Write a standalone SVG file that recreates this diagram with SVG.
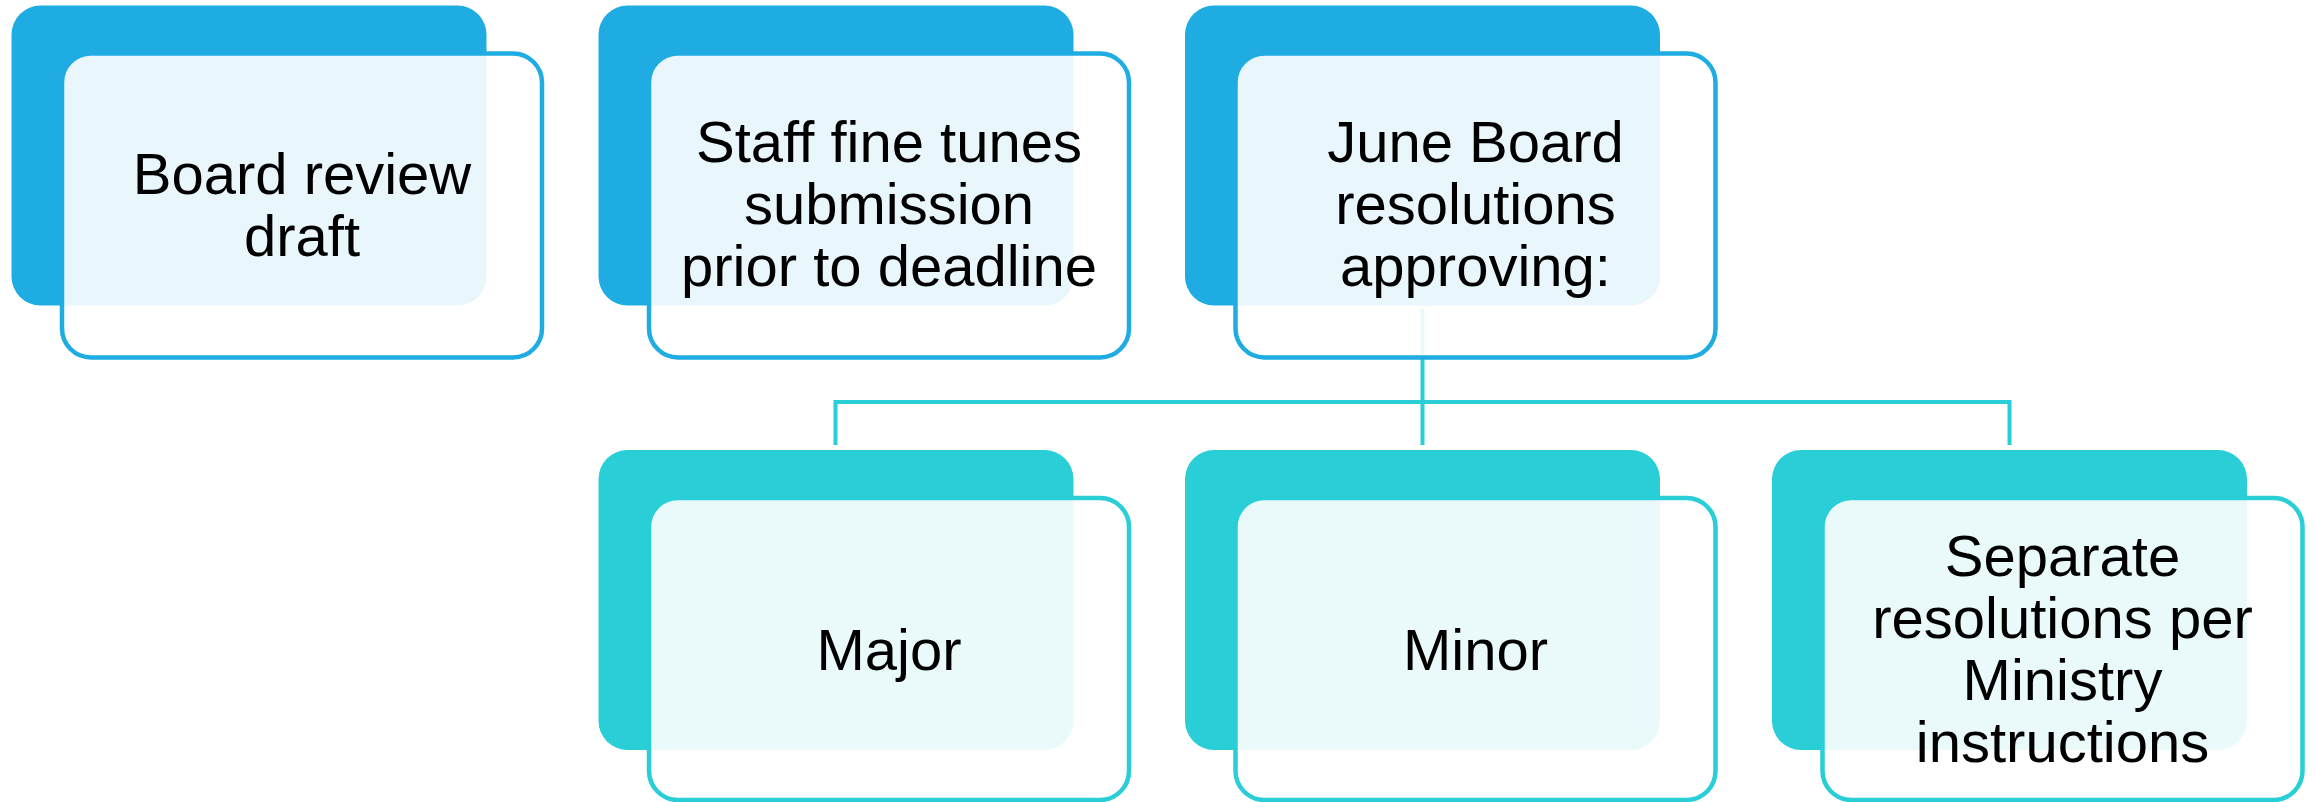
<svg xmlns="http://www.w3.org/2000/svg" width="2316" height="802" viewBox="0 0 2316 802">
<style>
.back1{fill:#1FACE2}
.front1{fill:#ffffff;fill-opacity:0.9;stroke:#1FACE2;stroke-width:4.5}
.back2{fill:#29CED7}
.front2{fill:#ffffff;fill-opacity:0.9;stroke:#29CED7;stroke-width:4.5}
.conn{fill:none;stroke:#29CED7;stroke-width:4}
text{font-family:"Liberation Sans",Arial,sans-serif;font-size:58px;fill:#000000;text-anchor:middle}
</style>
<rect width="2316" height="802" fill="#ffffff"/>
<g id="connectors">
<path class="conn" d="M1422.5,309 V445 M835.5,402 H2009.5 M835.5,400 V445 M2009.5,400 V445"/>
</g>
<g id="node-board-review">
<rect class="back1" x="11.5" y="5.5" width="475" height="300" rx="29"/>
<rect class="front1" x="62" y="53.5" width="480" height="304" rx="29"/>
<text x="302" y="193.5">Board review</text>
<text x="302" y="256">draft</text>
</g>
<g id="node-staff">
<rect class="back1" x="598.5" y="5.5" width="475" height="300" rx="29"/>
<rect class="front1" x="649" y="53.5" width="480" height="304" rx="29"/>
<text x="889" y="162">Staff fine tunes</text>
<text x="889" y="224">submission</text>
<text x="889" y="286">prior to deadline</text>
</g>
<g id="node-june">
<rect class="back1" x="1185" y="5.5" width="475" height="300" rx="29"/>
<rect class="front1" x="1235.5" y="53.5" width="480" height="304" rx="29"/>
<text x="1475.5" y="162">June Board</text>
<text x="1475.5" y="224">resolutions</text>
<text x="1475.5" y="286">approving:</text>
</g>
<g id="node-major">
<rect class="back2" x="598.5" y="450" width="475" height="300" rx="29"/>
<rect class="front2" x="649" y="498" width="480" height="302" rx="29"/>
<text x="889" y="669.5">Major</text>
</g>
<g id="node-minor">
<rect class="back2" x="1185" y="450" width="475" height="300" rx="29"/>
<rect class="front2" x="1235.5" y="498" width="480" height="302" rx="29"/>
<text x="1475.5" y="669.5">Minor</text>
</g>
<g id="node-separate">
<rect class="back2" x="1772" y="450" width="475" height="300" rx="29"/>
<rect class="front2" x="1822.5" y="498" width="480" height="302" rx="29"/>
<text x="2062.5" y="575.5">Separate</text>
<text x="2062.5" y="637.5">resolutions per</text>
<text x="2062.5" y="700">Ministry</text>
<text x="2062.5" y="762">instructions</text>
</g>
</svg>
